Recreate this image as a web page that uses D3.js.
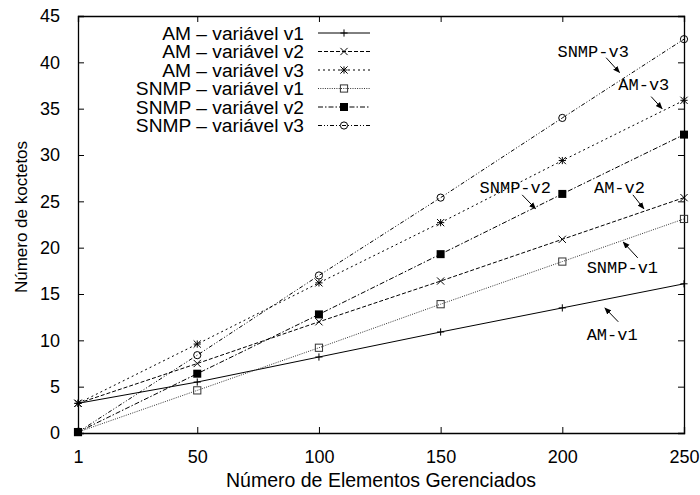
<!DOCTYPE html>
<html>
<head>
<meta charset="utf-8">
<script src="https://cdn.jsdelivr.net/npm/d3@7"></script>
<style>
  body { margin: 0; background: #fff; }
</style>
</head>
<body>
<svg></svg>
<script>
const width = 700
const height = 495

// data
const elementos = [1, 50, 100, 150, 200, 250]
const amV1 = [3.2, 5.5, 8.2, 10.9, 13.5, 16.1]
const amV2 = [3.2, 7.5, 12.0, 16.4, 20.9, 25.4]
const amV3 = [3.2, 9.6, 16.2, 22.7, 29.4, 35.9]
const snmpV1 = [0.1, 4.6, 9.2, 13.9, 18.5, 23.1]
const snmpV2 = [0.1, 6.4, 12.8, 19.3, 25.8, 32.2]
const snmpV3 = [0.1, 8.4, 17.0, 25.4, 34.0, 42.5]
const xTicks = [1, 50, 100, 150, 200, 250]
const yTicks = [0, 5, 10, 15, 20, 25, 30, 35, 40, 45]

const series = [
  { name: "AM – variável v1", values: amV1, dash: null, marker: "plus", color: "#000" },
  { name: "AM – variável v2", values: amV2, dash: "4,2", marker: "cross", color: "#000" },
  { name: "AM – variável v3", values: amV3, dash: "2,3", marker: "star", color: "#000" },
  { name: "SNMP – variável v1", values: snmpV1, dash: "1,1.3", marker: "square", color: "#333" },
  { name: "SNMP – variável v2", values: snmpV2, dash: "5,2,1.5,2", marker: "fsquare", color: "#000" },
  { name: "SNMP – variável v3", values: snmpV3, dash: "4,2,1,2,1,2", marker: "circle", color: "#000" }
]

// label, text position, arrow start, arrow end (in data units)
const notes = [
  { text: "SNMP-v3", at: [198, 40.6], from: [218, 40.5], to: [223.5, 38.9] },
  { text: "AM-v3", at: [223, 37.0], from: [236.5, 36.3], to: [241, 35.0] },
  { text: "SNMP-v2", at: [166, 25.9], from: [183.5, 25.7], to: [189, 24.2] },
  { text: "AM-v2", at: [213, 25.9], from: [229, 25.7], to: [233.5, 24.2] },
  { text: "SNMP-v1", at: [210, 17.3], from: [231, 18.9], to: [225, 20.6] },
  { text: "AM-v1", at: [210, 10.0], from: [223, 12.0], to: [217.5, 13.5] }
]

const margin = { left: 78, right: 16, top: 16, bottom: 62 }
const sans = "Arial, 'Liberation Sans', sans-serif"
const mono = "'Liberation Mono', 'DejaVu Sans Mono', monospace"

const svg = d3.select('svg')
  .attr('width', width)
  .attr('height', height)
  .style('font-family', sans)

const x = d3.scaleLinear().domain([1, 250]).range([margin.left, width - margin.right])
const y = d3.scaleLinear().domain([0, 45]).range([height - margin.bottom, margin.top])

svg.append("defs").append("marker")
  .attr("id", "arrow")
  .attr("viewBox", "0 0 10 10")
  .attr("refX", 9).attr("refY", 5)
  .attr("markerWidth", 7).attr("markerHeight", 7)
  .attr("markerUnits", "userSpaceOnUse")
  .attr("orient", "auto")
  .append("path")
  .attr("d", "M0,1 L10,5 L0,9 Z")
  .attr("fill", "#000")

const g = svg.append("g")

// axes, ticks pointing inward on all four sides
const tickLen = 6
g.append("g")
  .attr("transform", `translate(0,${y(0)})`)
  .call(d3.axisBottom(x).tickValues(xTicks).tickSize(-tickLen).tickPadding(17))
g.append("g")
  .attr("transform", `translate(0,${y(45)})`)
  .call(d3.axisTop(x).tickValues(xTicks).tickSize(-tickLen).tickFormat(""))
g.append("g")
  .attr("transform", `translate(${x(1)},0)`)
  .call(d3.axisLeft(y).tickValues(yTicks).tickSize(-tickLen).tickPadding(18))
g.append("g")
  .attr("transform", `translate(${x(250)},0)`)
  .call(d3.axisRight(y).tickValues(yTicks).tickSize(-tickLen).tickFormat(""))

g.selectAll(".domain").attr("stroke", "#000").attr("stroke-width", 1.3)
g.selectAll(".tick line").attr("stroke", "#000")
g.selectAll(".tick text")
  .attr("font-family", sans)
  .attr("font-size", 18)
  .attr("fill", "#000")

// drop the outer ticks that sit on the frame corners
g.selectAll(".tick").filter(d => d === 1 || d === 250 || d === 0 || d === 45)
  .select("line").remove()

svg.append("text")
  .attr("x", (x(1) + x(250)) / 2)
  .attr("y", 487)
  .attr("text-anchor", "middle")
  .attr("font-size", 19.5)
  .text("Número de Elementos Gerenciados")

svg.append("text")
  .attr("transform", `translate(27,217) rotate(-90)`)
  .attr("text-anchor", "middle")
  .attr("font-size", 17)
  .text("Número de koctetos")

function drawMarker(sel, type, cx, cy, color) {
  const s = 3.6
  if (type === "plus" || type === "star") {
    sel.append("path").attr("d", `M${cx - s},${cy}H${cx + s}M${cx},${cy - s}V${cy + s}`)
      .attr("stroke", color).attr("fill", "none")
  }
  if (type === "cross" || type === "star") {
    sel.append("path").attr("d", `M${cx - s},${cy - s}L${cx + s},${cy + s}M${cx - s},${cy + s}L${cx + s},${cy - s}`)
      .attr("stroke", color).attr("fill", "none")
  }
  if (type === "square") {
    sel.append("rect").attr("x", cx - s).attr("y", cy - s).attr("width", 2 * s).attr("height", 2 * s)
      .attr("stroke", color).attr("fill", "none")
  }
  if (type === "fsquare") {
    sel.append("rect").attr("x", cx - 4).attr("y", cy - 4).attr("width", 8).attr("height", 8)
      .attr("fill", "#000")
  }
  if (type === "circle") {
    sel.append("circle").attr("cx", cx).attr("cy", cy).attr("r", s)
      .attr("stroke", color).attr("fill", "none")
  }
}

const line = d3.line()
  .x((d, i) => x(elementos[i]))
  .y(d => y(d))

const plot = svg.append("g")
series.forEach(s => {
  plot.append("path")
    .datum(s.values)
    .attr("d", line)
    .attr("fill", "none")
    .attr("stroke", s.color)
    .attr("stroke-width", 1)
    .attr("stroke-dasharray", s.dash)
  const mg = plot.append("g")
  s.values.forEach((v, i) => drawMarker(mg, s.marker, x(elementos[i]), y(v), s.color))
})

// legend
const legend = svg.append("g")
series.forEach((s, i) => {
  const ly = 33 + i * 18.5
  legend.append("text")
    .attr("x", 304).attr("y", ly)
    .attr("dy", "0.35em")
    .attr("text-anchor", "end")
    .attr("font-size", 19.2)
    .text(s.name)
  legend.append("line")
    .attr("x1", 318).attr("x2", 370)
    .attr("y1", ly).attr("y2", ly)
    .attr("stroke", s.color)
    .attr("stroke-dasharray", s.dash)
  drawMarker(legend, s.marker, 344, ly, s.color)
})

// annotations
const ann = svg.append("g")
notes.forEach(n => {
  ann.append("text")
    .attr("x", x(n.at[0])).attr("y", y(n.at[1]))
    .style("font-family", mono)
    .attr("font-size", 17)
    .text(n.text)
  ann.append("line")
    .attr("x1", x(n.from[0])).attr("y1", y(n.from[1]))
    .attr("x2", x(n.to[0])).attr("y2", y(n.to[1]))
    .attr("stroke", "#000")
    .attr("marker-end", "url(#arrow)")
})
</script>
</body>
</html>
